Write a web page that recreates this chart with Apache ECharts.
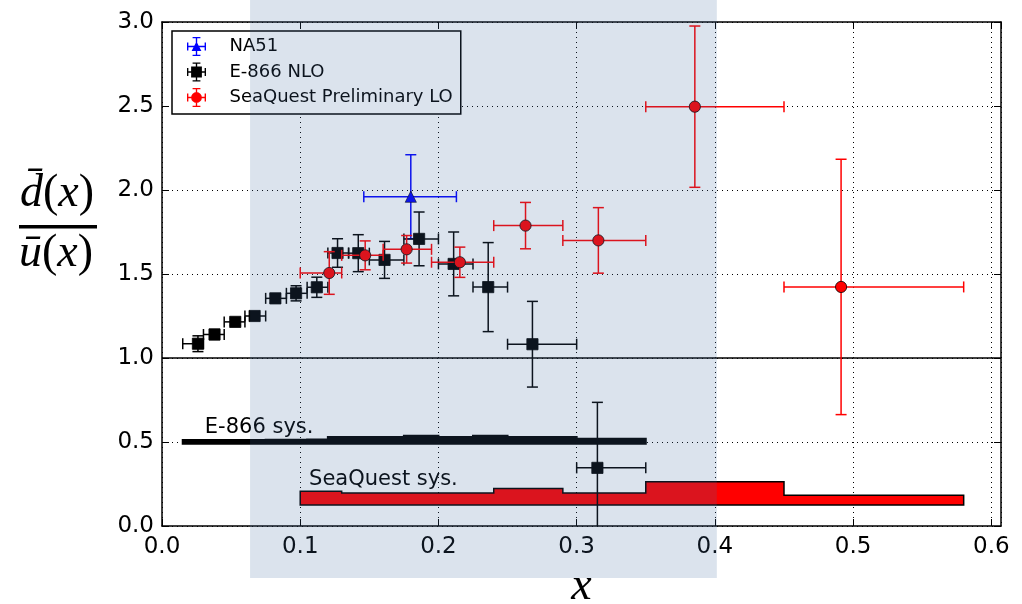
<!DOCTYPE html>
<html>
<head>
<meta charset="utf-8">
<title>dbar/ubar</title>
<script src="https://cdn.jsdelivr.net/npm/echarts@6/dist/echarts.min.js"></script>
<style>
    html, body { margin: 0; padding: 0; background: #fff; }
    #chart { width: 1022px; height: 604px; }
</style>
</head>
<body>
<div id="chart"></div>
<script>
// NA51
var na51X = [0.18];
var na51Y = [1.96];
var na51Err = [0.25];
var na51Lo = [0.146];
var na51Hi = [0.213];

// E-866 NLO
var e866X = [0.026, 0.038, 0.053, 0.067, 0.082, 0.097, 0.112, 0.127, 0.142, 0.161, 0.186, 0.211, 0.236, 0.268, 0.315];
var e866Y = [1.085, 1.140, 1.215, 1.250, 1.355, 1.385, 1.421, 1.625, 1.624, 1.584, 1.709, 1.560, 1.422, 1.082, 0.346];
var e866Err = [0.047, 0.03, 0.02, 0.02, 0.025, 0.045, 0.06, 0.085, 0.11, 0.11, 0.16, 0.19, 0.265, 0.255, 0.39];
var e866Lo = [0.015, 0.03, 0.045, 0.06, 0.075, 0.09, 0.105, 0.12, 0.135, 0.15, 0.175, 0.2, 0.225, 0.25, 0.3];
var e866Hi = [0.03, 0.045, 0.06, 0.075, 0.09, 0.105, 0.12, 0.135, 0.15, 0.175, 0.2, 0.225, 0.25, 0.3, 0.35];
var e866SysTop = [0.512, 0.512, 0.512, 0.512, 0.513, 0.514, 0.515, 0.53, 0.53, 0.53, 0.537, 0.53, 0.537, 0.53, 0.52];
var e866SysBase = 0.49;

// SeaQuest Preliminary LO
var sqX = [0.121, 0.147, 0.177, 0.2155, 0.263, 0.3157, 0.3855, 0.4913];
var sqY = [1.506, 1.611, 1.647, 1.57, 1.788, 1.70, 2.496, 1.423];
var sqErr = [0.127, 0.086, 0.082, 0.09, 0.138, 0.195, 0.48, 0.76];
var sqLo = [0.1, 0.13, 0.16, 0.195, 0.24, 0.29, 0.35, 0.45];
var sqHi = [0.13, 0.16, 0.195, 0.24, 0.29, 0.35, 0.45, 0.58];
var sqSysTop = [0.207, 0.197, 0.197, 0.197, 0.223, 0.197, 0.263, 0.183];
var sqSysBase = 0.125;

// shaded x range
var shadeX = [0.0637, 0.4014];
var shadeY = [-0.31, 3.14];

// text next to the sys bands
var sysNames = ['E-866 sys.', 'SeaQuest sys.'];
var sysNameX = [0.031, 0.1064];
var sysNameY = [0.524, 0.214];

chart();

function chart() {
    var myChart = echarts.init(document.getElementById('chart'));

    function errData(xs, ys, es, lo, hi) {
        var out = [];
        for (var i = 0; i < xs.length; i++) {
            out.push([xs[i], ys[i], lo[i], hi[i], ys[i] - es[i], ys[i] + es[i]]);
        }
        return out;
    }

    // error bar + marker
    function errRender(marker, color) {
        return function (params, api) {
            var x = api.value(0), y = api.value(1);
            var c = api.coord([x, y]);
            var l = api.coord([api.value(2), y]);
            var r = api.coord([api.value(3), y]);
            var b = api.coord([x, api.value(4)]);
            var t = api.coord([x, api.value(5)]);
            var cap = 5.5;
            function seg(x1, y1, x2, y2) {
                return { type: 'line', shape: { x1: x1, y1: y1, x2: x2, y2: y2 }, style: { stroke: color, lineWidth: 1.5 } };
            }
            var kids = [
                seg(l[0], c[1], r[0], c[1]),
                seg(l[0], c[1] - cap, l[0], c[1] + cap),
                seg(r[0], c[1] - cap, r[0], c[1] + cap),
                seg(c[0], b[1], c[0], t[1]),
                seg(c[0] - cap, b[1], c[0] + cap, b[1]),
                seg(c[0] - cap, t[1], c[0] + cap, t[1])
            ];
            var s = 5.6;
            if (marker === 'square') {
                kids.push({ type: 'rect', shape: { x: c[0] - s, y: c[1] - s, width: 2 * s, height: 2 * s }, style: { fill: color, stroke: '#000', lineWidth: 0.8 } });
            } else if (marker === 'circle') {
                kids.push({ type: 'circle', shape: { cx: c[0], cy: c[1], r: s }, style: { fill: color, stroke: '#000', lineWidth: 0.8 } });
            } else {
                kids.push({ type: 'polygon', shape: { points: [[c[0], c[1] - s], [c[0] + s, c[1] + s], [c[0] - s, c[1] + s]] }, style: { fill: color, stroke: '#000', lineWidth: 0.6 } });
            }
            return { type: 'group', children: kids };
        };
    }

    // step band for systematics
    function sysRender(lo, hi, top, base, fill, lw) {
        return function (params, api) {
            var pts = [];
            for (var i = 0; i < lo.length; i++) {
                pts.push(api.coord([lo[i], top[i]]));
                pts.push(api.coord([hi[i], top[i]]));
            }
            pts.push(api.coord([hi[hi.length - 1], base]));
            pts.push(api.coord([lo[0], base]));
            return { type: 'polygon', shape: { points: pts }, style: { fill: fill, stroke: '#000', lineWidth: lw, lineJoin: 'miter' } };
        };
    }

    var bars = 'M1 9.3H19V10.7H1Z M0.3 6H1.7V14H0.3Z M18.3 6H19.7V14H18.3Z M9.3 1H10.7V19H9.3Z M6 0.3H14V1.7H6Z M6 18.3H14V19.7H6Z ';
    var iconTri = 'path://' + bars + 'M10 5L15 14.5L5 14.5Z';
    var iconSq = 'path://' + bars + 'M4.5 4.5H15.5V15.5H4.5Z';
    var iconCirc = 'path://' + bars + 'M4.5 10A5.5 5.5 0 1 1 15.5 10A5.5 5.5 0 1 1 4.5 10Z';

    var labelFont = { fontFamily: 'DejaVu Sans', fontSize: 23, color: '#000' };
    var grid = { type: [1, 4], color: '#000', width: 1 };

    var option = {
        animation: false,
        backgroundColor: '#fff',
        grid: { left: 162, right: 21, top: 22, bottom: 78, outerBoundsMode: 'none' },
        legend: {
            left: 172,
            top: 31,
            orient: 'vertical',
            selectedMode: false,
            itemWidth: 22,
            itemHeight: 19,
            itemGap: 6.5,
            padding: [6, 8, 7, 15],
            backgroundColor: '#fff',
            borderColor: '#000',
            borderWidth: 1.5,
            borderRadius: 0,
            textStyle: { fontFamily: 'DejaVu Sans', fontSize: 18, color: '#000', padding: [0, 0, 0, 17] },
            data: [
                { name: 'NA51', icon: iconTri },
                { name: 'E-866 NLO', icon: iconSq },
                { name: 'SeaQuest Preliminary LO', icon: iconCirc }
            ]
        },
        xAxis: [
            {
                type: 'value', min: 0, max: 0.607, interval: 0.1, position: 'bottom',
                name: 'x', nameLocation: 'middle', nameGap: 28,
                nameTextStyle: { fontFamily: 'Liberation Serif', fontStyle: 'italic', fontSize: 46, color: '#000' },
                axisLine: { show: true, onZero: false, lineStyle: { color: '#000', width: 1.5 } },
                axisTick: { inside: true, length: 7, lineStyle: { color: '#000' } },
                axisLabel: Object.assign({ margin: 10, showMaxLabel: false, formatter: function (v) { return v.toFixed(1); } }, labelFont),
                splitLine: { show: true, lineStyle: grid }
            },
            {
                type: 'value', min: 0, max: 0.607, interval: 0.1, position: 'top',
                axisLine: { show: true, onZero: false, lineStyle: { color: '#000', width: 1.5 } },
                axisTick: { inside: true, length: 7, lineStyle: { color: '#000' } },
                axisLabel: { show: false },
                splitLine: { show: false }
            }
        ],
        yAxis: [
            {
                type: 'value', min: 0, max: 3, interval: 0.5, position: 'left',
                axisLine: { show: true, onZero: false, lineStyle: { color: '#000', width: 1.5 } },
                axisTick: { inside: true, length: 7, lineStyle: { color: '#000' } },
                axisLabel: Object.assign({ margin: 8, formatter: function (v) { return v.toFixed(1); } }, labelFont),
                splitLine: { show: true, lineStyle: grid }
            },
            {
                type: 'value', min: 0, max: 3, interval: 0.5, position: 'right',
                axisLine: { show: true, onZero: false, lineStyle: { color: '#000', width: 1.5 } },
                axisTick: { inside: true, length: 7, lineStyle: { color: '#000' } },
                axisLabel: { show: false },
                splitLine: { show: false }
            }
        ],
        graphic: [
            {
                type: 'text', x: 57, y: 194,
                style: {
                    text: '{i|d\u0304}{n|(}{i|x}{n|)}', align: 'center', verticalAlign: 'middle',
                    rich: {
                        i: { fontFamily: 'Liberation Serif', fontStyle: 'italic', fontSize: 46, fill: '#000' },
                        n: { fontFamily: 'Liberation Serif', fontSize: 46, fill: '#000' }
                    }
                }
            },
            { type: 'rect', shape: { x: 19, y: 225, width: 78, height: 3.5 }, style: { fill: '#000' } },
            {
                type: 'text', x: 56, y: 254,
                style: {
                    text: '{i|\u016b}{n|(}{i|x}{n|)}', align: 'center', verticalAlign: 'middle',
                    rich: {
                        i: { fontFamily: 'Liberation Serif', fontStyle: 'italic', fontSize: 46, fill: '#000' },
                        n: { fontFamily: 'Liberation Serif', fontSize: 46, fill: '#000' }
                    }
                }
            }
        ],
        series: [
            {
                name: 'E-866 sys',
                type: 'custom',
                data: [[e866Lo[0], e866SysBase]],
                renderItem: sysRender(e866Lo, e866Hi, e866SysTop, e866SysBase, '#000', 2),
                silent: true,
                z: 2,
                markLine: {
                    silent: true, symbol: 'none', label: { show: false },
                    lineStyle: { color: '#000', width: 1.5, type: 'solid' },
                    data: [{ yAxis: 1 }]
                }
            },
            {
                name: 'SeaQuest sys',
                type: 'custom',
                data: [[sqLo[0], sqSysBase]],
                renderItem: sysRender(sqLo, sqHi, sqSysTop, sqSysBase, '#ff0000', 1.5),
                silent: true,
                z: 2
            },
            {
                name: 'sys text',
                type: 'custom',
                data: sysNames.map(function (n, i) { return [sysNameX[i], sysNameY[i]]; }),
                renderItem: function (params, api) {
                    var p = api.coord([api.value(0), api.value(1)]);
                    return {
                        type: 'text', x: p[0], y: p[1],
                        style: { text: sysNames[params.dataIndex], fill: '#000', font: '21px DejaVu Sans', align: 'left', verticalAlign: 'bottom' }
                    };
                },
                silent: true,
                z: 3
            },
            {
                name: 'NA51',
                type: 'custom',
                itemStyle: { color: '#0000ff' },
                data: errData(na51X, na51Y, na51Err, na51Lo, na51Hi),
                renderItem: errRender('triangle', '#0000ff'),
                clip: true,
                z: 4
            },
            {
                name: 'E-866 NLO',
                type: 'custom',
                itemStyle: { color: '#000' },
                data: errData(e866X, e866Y, e866Err, e866Lo, e866Hi),
                renderItem: errRender('square', '#000'),
                clip: true,
                z: 5
            },
            {
                name: 'SeaQuest Preliminary LO',
                type: 'custom',
                itemStyle: { color: '#ff0000' },
                data: errData(sqX, sqY, sqErr, sqLo, sqHi),
                renderItem: errRender('circle', '#ff0000'),
                clip: true,
                z: 6
            },
            {
                // shaded region, drawn over everything
                name: 'shade',
                type: 'custom',
                data: [[shadeX[0], shadeX[1], shadeY[0], shadeY[1]]],
                renderItem: function (params, api) {
                    var a = api.coord([api.value(0), api.value(3)]);
                    var b = api.coord([api.value(1), api.value(2)]);
                    return { type: 'rect', shape: { x: a[0], y: a[1], width: b[0] - a[0], height: b[1] - a[1] }, style: { fill: 'rgba(65,105,160,0.19)' } };
                },
                silent: true,
                clip: false,
                z: 20
            }
        ]
    };

    myChart.setOption(option);
    window.addEventListener('resize', function () { myChart.resize(); });
}
</script>
</body>
</html>
